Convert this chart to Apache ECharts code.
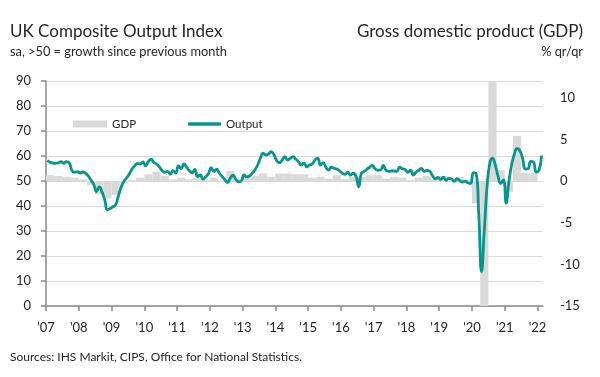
<!DOCTYPE html>
<html><head><meta charset="utf-8">
<script src="https://cdn.jsdelivr.net/npm/echarts@6/dist/echarts.min.js"></script>
<style>html,body{margin:0;padding:0;background:#fff}#c{width:600px;height:377px}</style>
</head><body><div id="c"></div><script>
// ---- data ----
const startYear = 2007;            // first month = Jan 2007, first quarter = 2007 Q1
const yearTicks = [2007,2008,2009,2010,2011,2012,2013,2014,2015,2016,2017,2018,2019,2020,2021,2022];
const yearLabels = ["'07","'08","'09","'10","'11","'12","'13","'14","'15","'16","'17","'18","'19","'20","'21","'22"];
// UK Composite Output Index (PMI), monthly, Jan 2007 - Feb 2022
const outputIndex = [
  58.2,57.5,57.2,57.1,57.3,57.7,57.1,57.7,57.3,54.2,53.5,53.7,   // 2007
  53.2,53.6,53.1,52.0,50.3,48.6,45.8,47.6,45.6,42.5,38.5,39.0,   // 2008
  39.7,40.5,44.0,47.5,49.8,51.2,52.8,54.8,56.1,57.0,56.8,57.6,   // 2009
  56.1,57.8,58.7,57.4,56.8,55.7,54.2,53.5,53.8,52.7,54.1,53.2,   // 2010
  56.0,55.0,56.8,55.5,54.1,53.3,54.6,51.8,52.4,50.8,51.7,53.0,   // 2011
  55.3,53.8,54.7,53.1,51.8,50.5,49.4,51.2,52.3,50.7,49.7,50.0,   // 2012
  52.4,51.7,52.0,53.1,54.4,56.4,59.1,61.1,60.4,60.8,61.7,60.4,   // 2013
  58.1,57.3,58.4,59.7,58.4,59.1,59.7,58.7,57.7,56.4,57.1,55.7,   // 2014
  56.4,56.8,58.4,59.1,56.4,57.3,55.5,54.4,55.5,55.1,54.8,54.1,   // 2015
  53.1,52.7,53.5,52.4,53.1,52.0,47.7,53.2,53.8,54.7,55.5,56.2,   // 2016
  54.9,54.3,54.4,56.2,54.3,53.9,54.0,54.0,53.9,55.5,54.9,54.6,   // 2017
  53.5,54.3,52.4,53.5,54.3,55.0,53.9,54.2,53.9,52.2,50.9,51.4,   // 2018
  50.6,51.5,50.3,51.0,50.8,49.9,50.9,50.1,49.6,49.9,49.3,49.0,   // 2019
  53.3,53.0,36.0,13.8,30.0,47.7,57.0,59.1,56.5,52.1,49.0,50.4,   // 2020
  41.2,49.6,56.4,60.7,62.9,62.2,59.2,54.8,54.9,57.8,57.6,53.6,   // 2021
  54.2,60.2                                                      // 2022
];
// UK GDP, % q/q, 2007 Q1 - 2021 Q4
const gdpGrowth = [
  0.7,0.6,0.5,0.4,     // 2007
  0.2,-0.5,-1.6,-2.1,  // 2008
  -1.7,-0.3,0.1,0.4,   // 2009
  0.8,1.1,0.6,0.2,     // 2010
  0.4,0.2,0.4,0.1,     // 2011
  0.4,-0.1,1.2,-0.1,   // 2012
  0.5,0.6,0.9,0.5,     // 2013
  0.9,0.9,0.8,0.8,     // 2014
  0.4,0.5,0.3,0.7,     // 2015
  0.2,0.5,0.5,0.7,     // 2016
  0.7,0.3,0.5,0.4,     // 2017
  0.1,0.4,0.6,0.2,     // 2018
  0.6,-0.1,0.5,0.1,    // 2019
  -2.7,-19.4,16.9,1.3, // 2020
  -1.3,5.4,1.0,1.0     // 2021
];

// ---- chart ----
const FONT = 'Lato, "Noto Sans", sans-serif';
const TEXT = '#262626';
const AXIS = '#8a8a8a';
const TEAL = '#07968c';
const GREY = '#d9d9d9';

const outputPoints = outputIndex.map((v, i) => [startYear + (i + 0.5) / 12, v]);
const gdpPoints = gdpGrowth.map((v, i) => [startYear + i / 4, v]);

function renderGdp(params, api) {
  const t0 = api.value(0), v = api.value(1);
  const p0 = api.coord([t0, 0]);
  const p1 = api.coord([t0 + 0.25, v]);
  const rect = echarts.graphic.clipRectByRect({
    x: p0[0], y: Math.min(p0[1], p1[1]),
    width: p1[0] - p0[0], height: Math.abs(p1[1] - p0[1])
  }, {
    x: params.coordSys.x, y: params.coordSys.y,
    width: params.coordSys.width, height: params.coordSys.height
  });
  return rect && { type: 'rect', shape: rect, style: { fill: GREY } };
}

const legendText = { fontSize: 11.5, color: TEXT, fontFamily: FONT };

const chart = echarts.init(document.getElementById('c'), null, { renderer: 'canvas' });
chart.setOption({
  animation: false,
  textStyle: { fontFamily: FONT },
  grid: { left: 46, right: 57, top: 81, bottom: 71 },
  graphic: [
    { type: 'text', x: 10, y: 32, style: { text: 'UK Composite Output Index', font: '17px ' + FONT, fill: TEXT, textVerticalAlign: 'middle' } },
    { type: 'text', x: 10, y: 52, style: { text: 'sa, >50 = growth since previous month', font: '12.8px ' + FONT, fill: TEXT, textVerticalAlign: 'middle' } },
    { type: 'text', x: 583, y: 32, style: { text: 'Gross domestic product (GDP)', font: '17px ' + FONT, fill: TEXT, textAlign: 'right', textVerticalAlign: 'middle' } },
    { type: 'text', x: 583, y: 52, style: { text: '% qr/qr', font: '12.8px ' + FONT, fill: TEXT, textAlign: 'right', textVerticalAlign: 'middle' } },
    { type: 'text', x: 10, y: 357, style: { text: 'Sources: IHS Markit, CIPS, Office for National Statistics.', font: '12px ' + FONT, fill: TEXT, textVerticalAlign: 'middle' } }
  ],
  legend: [
    {
      left: 68, top: 113, itemWidth: 34, itemHeight: 7, itemGap: 0,
      textStyle: legendText, data: [{ name: 'GDP', icon: 'rect' }]
    },
    {
      left: 183, top: 113, itemWidth: 33, itemHeight: 3.5, itemGap: 0,
      textStyle: legendText, data: [{ name: 'Output', icon: 'roundRect' }]
    }
  ],
  xAxis: {
    type: 'value', min: startYear, max: 2022 + 2 / 12, interval: 1,
    axisLine: { lineStyle: { color: AXIS, width: 1.5 } },
    axisTick: { show: true, length: 5, lineStyle: { color: AXIS, width: 1.5 }, customValues: yearTicks },
    axisLabel: {
      customValues: yearTicks, fontSize: 13, color: TEXT, margin: 15,
      formatter: v => yearLabels[yearTicks.indexOf(Math.round(v))] || ''
    },
    splitLine: { show: false }
  },
  yAxis: [
    {
      type: 'value', min: 0, max: 90, interval: 10,
      axisLine: { show: true, lineStyle: { color: AXIS, width: 1.5 } },
      axisTick: { show: true, length: 5, lineStyle: { color: AXIS, width: 1.5 } },
      axisLabel: { fontSize: 13, color: TEXT, margin: 15 },
      splitLine: { show: true, lineStyle: { color: GREY, width: 1.2 } }
    },
    {
      type: 'value', min: -15, max: 12, interval: 5, position: 'right',
      axisLine: { show: false }, axisTick: { show: false }, splitLine: { show: false },
      axisLabel: { showMaxLabel: false, fontSize: 13, color: TEXT, margin: 17 }
    }
  ],
  series: [
    {
      name: 'GDP', type: 'custom', yAxisIndex: 1, renderItem: renderGdp,
      itemStyle: { color: GREY }, data: gdpPoints, z: 2
    },
    {
      name: 'Output', type: 'line', yAxisIndex: 0, data: outputPoints,
      smooth: 0.5, symbol: 'none', lineStyle: { color: TEAL, width: 2.8 },
      itemStyle: { color: TEAL }, z: 3
    }
  ]
});
</script></body></html>
